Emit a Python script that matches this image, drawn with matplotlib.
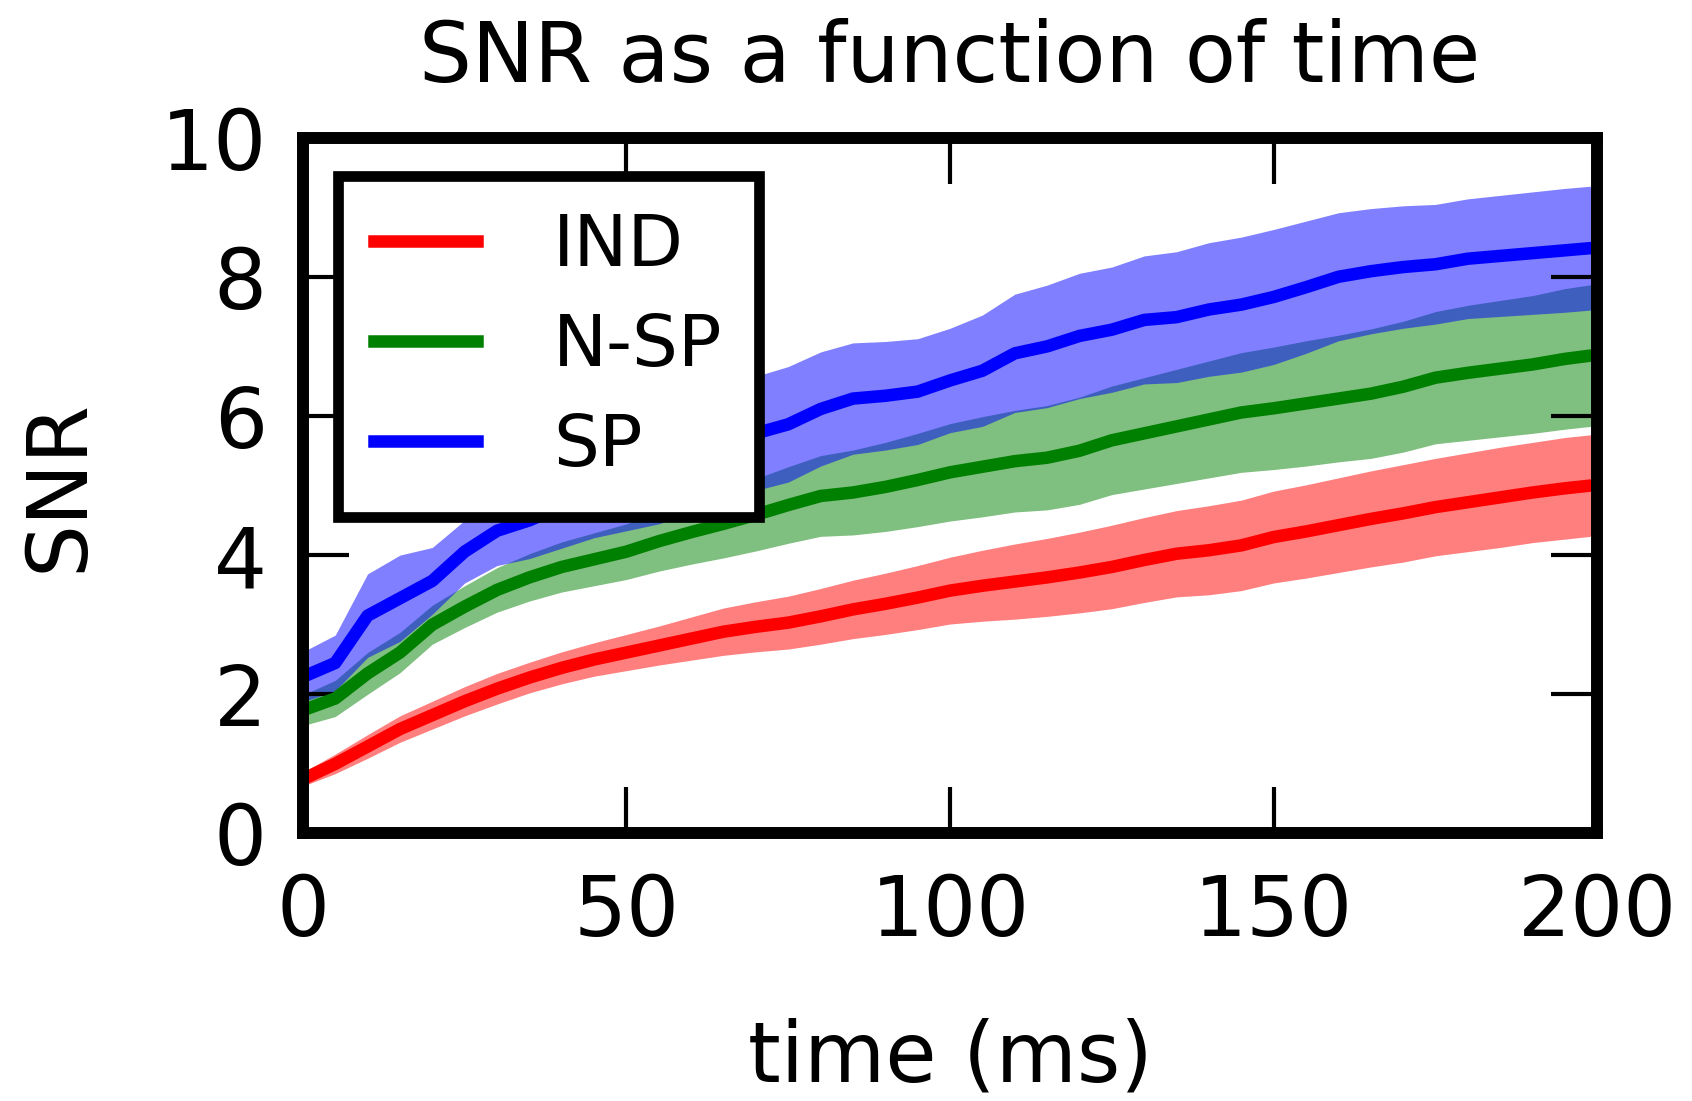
import numpy as np
import matplotlib
matplotlib.use("Agg")
import matplotlib.pyplot as plt

time_ms = [0, 5, 10, 15, 20, 25, 30, 35, 40, 45, 50, 55, 60, 65, 70, 75, 80, 85, 90, 95,
           100, 105, 110, 115, 120, 125, 130, 135, 140, 145, 150, 155, 160, 165, 170, 175,
           180, 185, 190, 195, 200]

ind_mean = [0.78, 1.00, 1.25, 1.50, 1.70, 1.90, 2.08, 2.24, 2.38, 2.50, 2.60, 2.70, 2.80, 2.90,
            2.97, 3.03, 3.12, 3.22, 3.30, 3.39, 3.49, 3.56, 3.62, 3.68, 3.75, 3.83, 3.93, 4.02,
            4.07, 4.14, 4.26, 4.34, 4.43, 4.52, 4.60, 4.69, 4.76, 4.83, 4.90, 4.96, 5.01]
ind_err = [0.10, 0.14, 0.17, 0.19, 0.20, 0.21, 0.22, 0.22, 0.23, 0.24, 0.26, 0.28, 0.31, 0.34,
           0.36, 0.38, 0.40, 0.42, 0.44, 0.46, 0.48, 0.51, 0.54, 0.56, 0.58, 0.60, 0.61, 0.62,
           0.64, 0.65, 0.66, 0.67, 0.68, 0.69, 0.70, 0.70, 0.71, 0.72, 0.72, 0.73, 0.73]

nsp_mean = [1.77, 1.94, 2.30, 2.60, 3.00, 3.26, 3.50, 3.68, 3.83, 3.94, 4.05, 4.20, 4.33, 4.45,
            4.58, 4.72, 4.85, 4.90, 4.98, 5.08, 5.19, 5.27, 5.35, 5.40, 5.50, 5.65, 5.75, 5.85,
            5.95, 6.05, 6.11, 6.18, 6.25, 6.32, 6.42, 6.55, 6.62, 6.68, 6.74, 6.82, 6.88]
nsp_err = [0.22, 0.26, 0.30, 0.29, 0.28, 0.30, 0.32, 0.34, 0.36, 0.38, 0.40, 0.43, 0.46, 0.49,
           0.52, 0.55, 0.58, 0.61, 0.64, 0.67, 0.70, 0.72, 0.73, 0.75, 0.77, 0.78, 0.80, 0.82,
           0.84, 0.86, 0.88, 0.90, 0.91, 0.93, 0.94, 0.95, 0.97, 0.98, 0.99, 1.01, 1.02]

sp_mean = [2.25, 2.45, 3.13, 3.38, 3.63, 4.05, 4.35, 4.50, 4.70, 4.90, 5.05, 5.20, 5.38, 5.55,
           5.75, 5.88, 6.10, 6.25, 6.29, 6.35, 6.51, 6.65, 6.90, 7.00, 7.15, 7.24, 7.38, 7.42,
           7.53, 7.60, 7.71, 7.85, 8.00, 8.08, 8.14, 8.18, 8.26, 8.30, 8.34, 8.38, 8.42]
sp_err = [0.36, 0.40, 0.60, 0.62, 0.48, 0.45, 0.50, 0.55, 0.60, 0.65, 0.70, 0.75, 0.78, 0.80,
          0.82, 0.83, 0.82, 0.80, 0.78, 0.76, 0.75, 0.80, 0.85, 0.88, 0.90, 0.90, 0.92, 0.94,
          0.96, 0.97, 0.97, 0.95, 0.92, 0.90, 0.88, 0.86, 0.86, 0.87, 0.88, 0.89, 0.89]

series = [("IND", ind_mean, ind_err, "red"),
          ("N-SP", nsp_mean, nsp_err, "green"),
          ("SP", sp_mean, sp_err, "blue")]

plt.rcParams['font.family'] = ['DejaVu Sans']
fig = plt.figure(figsize=(16.92, 11.01), dpi=100)
ax = fig.add_axes([0.179, 0.243, 0.765, 0.632])

t = np.array(time_ms)
for name, m, e, c in series:
    m = np.array(m); e = np.array(e)
    ax.fill_between(t, m - e, m + e, color=c, alpha=0.5, linewidth=0)
    ax.plot(t, m, color=c, linewidth=9, label=name)

ax.set_xlim(0, 200)
ax.set_ylim(0, 10)
ax.set_xticks([0, 50, 100, 150, 200])
ax.set_yticks([0, 2, 4, 6, 8, 10])
for s in ax.spines.values():
    s.set_linewidth(8.6)
ax.tick_params(direction='in', length=33, width=3, top=True, right=True,
               labelsize=60)
ax.tick_params(axis='x', pad=28)
ax.tick_params(axis='y', pad=26)
ax.set_title("SNR as a function of time", fontsize=60, pad=40)
ax.set_xlabel("time (ms)", fontsize=60, labelpad=46)
ax.set_ylabel("SNR", fontsize=60, labelpad=44)

leg = ax.legend(loc='upper left', bbox_to_anchor=(0.027, 0.945), borderaxespad=0,
                fontsize=52, handlelength=1.43, handletextpad=1.05, fancybox=False,
                borderpad=0.5, labelspacing=0.43, framealpha=1)
leg.get_frame().set_edgecolor('black')
leg.get_frame().set_linewidth(7.7)

fig.savefig("out.png", dpi=100)
